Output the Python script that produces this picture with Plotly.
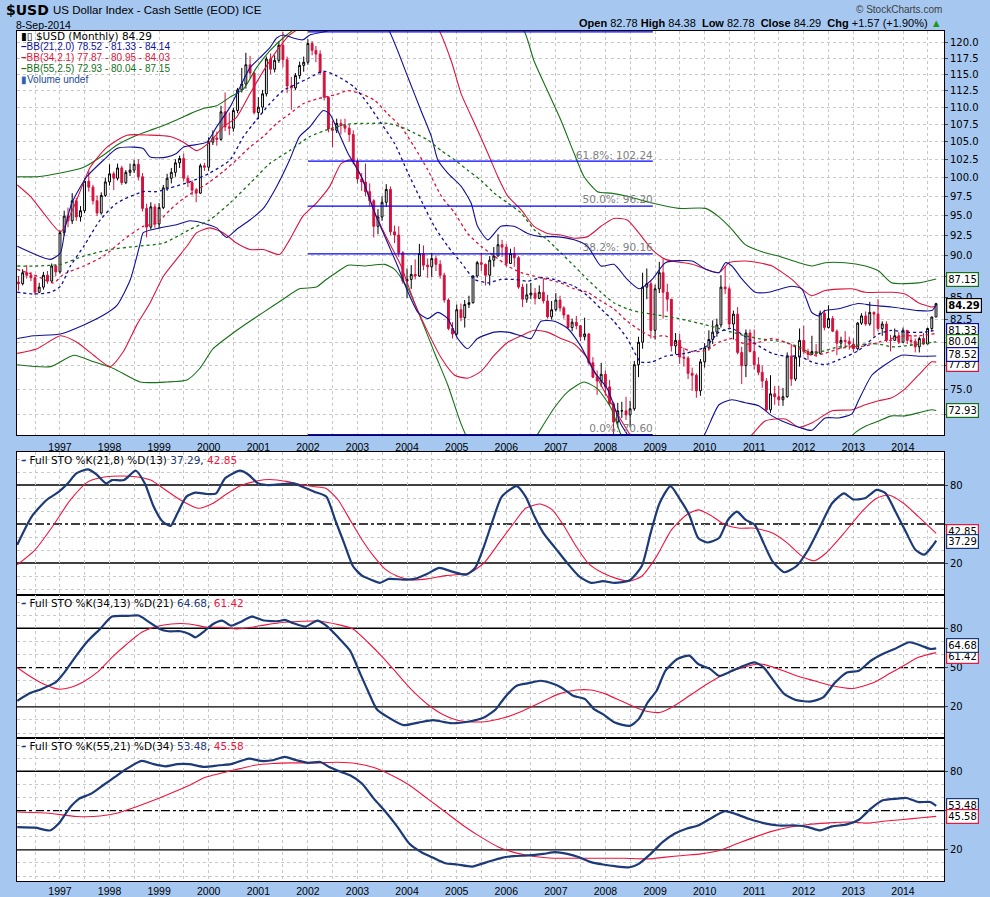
import numpy as np
import plotly.graph_objects as go
from datetime import datetime

# ---------------- data ----------------
prior_close = 86.8  # Feb-1996 close (open of first bar)
closes = [
    86.6, 87.9, 87.6, 87.3, 85.6, 86.2, 87.6, 86.9, 88.7, 88.0,                      # 1996 Mar-Dec
    92.8, 94.9, 94.3, 96.9, 94.8, 95.6, 99.5, 98.7, 96.9, 95.3, 97.6, 99.4,          # 1997
    100.5, 99.9, 101.3, 99.3, 100.7, 101.0, 101.8, 100.1, 95.9, 93.5, 96.1, 93.9,    # 1998
    96.0, 98.6, 99.9, 100.7, 102.0, 102.6, 99.9, 99.3, 98.3, 97.9, 101.6, 101.4,     # 1999
    104.9, 105.5, 105.3, 109.3, 107.1, 106.9, 109.5, 112.6, 113.5, 116.5, 115.2, 109.2,  # 2000
    110.0, 112.0, 117.4, 115.8, 117.2, 119.6, 117.3, 113.2, 112.9, 114.8, 116.4, 116.9,  # 2001
    119.9, 118.8, 118.2, 115.3, 111.5, 106.8, 106.6, 107.6, 107.3, 106.9, 106.0, 102.2,  # 2002
    99.8, 99.4, 98.1, 96.9, 93.6, 94.8, 96.7, 98.4, 92.9, 92.5, 90.3, 86.9,          # 2003
    87.1, 87.7, 87.5, 90.2, 88.8, 88.6, 89.6, 88.9, 87.6, 84.7, 81.5, 80.9,          # 2004
    83.6, 82.7, 84.2, 84.4, 87.5, 89.1, 88.9, 87.6, 89.4, 89.9, 91.3, 91.0,          # 2005
    89.0, 90.2, 89.7, 86.2, 84.8, 85.3, 85.5, 84.9, 85.6, 84.6, 82.8, 83.6,          # 2006
    84.7, 83.8, 83.0, 81.6, 82.2, 81.8, 80.6, 80.9, 77.8, 76.3, 75.9, 76.6,          # 2007
    75.3, 73.6, 71.8, 72.9, 72.9, 72.5, 73.1, 77.6, 80.0, 86.2, 86.6, 81.3,          # 2008
    86.0, 87.9, 85.6, 84.8, 79.6, 80.2, 78.4, 78.3, 76.7, 76.5, 74.9, 77.9,          # 2009
    79.4, 80.3, 81.1, 81.9, 86.2, 86.0, 82.0, 83.1, 78.9, 77.5, 81.0, 79.0,          # 2010
    77.6, 76.8, 75.9, 73.0, 74.6, 74.3, 74.0, 74.3, 78.5, 76.1, 78.4, 80.2,          # 2011
    79.0, 78.7, 79.0, 78.8, 83.2, 81.6, 82.6, 81.2, 79.9, 80.2, 80.1, 79.8,          # 2012
    79.3, 82.1, 82.9, 82.0, 83.3, 83.1, 81.5, 82.0, 80.2, 80.2, 80.7, 80.0,          # 2013
    81.3, 80.2, 80.1, 79.5, 80.4, 79.8, 81.5, 82.78, 84.29,                          # 2014 Jan-Sep
]
highs = [
    87.5, 88.3, 88.8, 88.0, 87.6, 86.7, 88.0, 88.1, 89.0, 88.9,
    93.1, 95.6, 96.0, 97.9, 97.3, 96.2, 99.9, 100.9, 99.0, 97.6, 98.0, 100.0,
    101.8, 100.8, 101.9, 101.6, 101.0, 101.9, 102.4, 102.5, 100.6, 96.5, 96.7, 96.5,
    96.6, 99.0, 100.5, 101.3, 102.5, 103.0, 103.3, 100.3, 99.6, 98.6, 101.9, 102.0,
    105.6, 106.6, 106.4, 110.2, 112.2, 109.2, 109.9, 112.9, 116.0, 118.4, 117.9, 115.4,
    111.5, 112.6, 117.8, 118.3, 118.0, 120.3, 121.8, 117.8, 114.6, 115.2, 117.0, 117.8,
    120.6, 120.3, 119.5, 118.8, 115.5, 111.6, 108.0, 108.3, 108.2, 108.3, 107.4, 106.6,
    102.6, 100.6, 101.9, 99.2, 97.1, 95.8, 97.5, 99.1, 98.8, 93.7, 93.6, 90.5,
    88.4, 88.8, 89.5, 91.4, 91.2, 89.6, 90.3, 90.0, 89.4, 87.9, 84.9, 82.2,
    84.2, 84.3, 84.7, 85.2, 87.6, 89.3, 90.3, 89.0, 89.9, 91.0, 92.6, 91.9,
    91.4, 90.8, 91.0, 89.9, 86.6, 86.6, 86.7, 86.1, 86.4, 87.2, 85.3, 84.6,
    85.5, 85.2, 84.0, 83.0, 82.6, 82.9, 81.9, 82.7, 81.0, 78.4, 77.0, 77.8,
    77.0, 76.0, 73.8, 73.7, 73.8, 74.3, 73.9, 78.0, 80.6, 87.9, 88.4, 87.0,
    86.5, 89.2, 89.6, 86.6, 84.8, 81.0, 80.9, 79.4, 78.5, 77.3, 76.7, 78.2,
    79.9, 81.3, 82.4, 82.6, 87.6, 88.7, 86.3, 83.5, 83.9, 79.5, 81.4, 81.4,
    81.4, 78.4, 77.5, 76.2, 76.5, 75.4, 75.4, 75.2, 78.9, 79.8, 79.6, 81.5,
    81.8, 79.3, 80.7, 79.8, 83.5, 83.6, 84.1, 82.9, 81.4, 80.6, 81.2, 80.6,
    80.4, 82.2, 83.2, 83.4, 84.5, 83.4, 84.8, 82.3, 82.3, 80.8, 81.5, 81.1,
    81.6, 81.3, 80.8, 80.4, 80.6, 81.0, 81.6, 82.8, 84.38,
]
lows = [
    85.8, 86.4, 87.2, 86.9, 85.3, 85.5, 85.9, 86.6, 86.8, 87.5,
    87.8, 92.4, 93.5, 93.9, 94.3, 94.2, 95.3, 98.1, 96.4, 94.9, 95.1, 97.4,
    98.9, 98.3, 99.6, 99.0, 99.1, 100.2, 100.6, 99.6, 95.5, 92.2, 93.2, 93.4,
    93.4, 95.8, 98.2, 99.2, 100.1, 101.3, 99.5, 98.7, 97.6, 96.7, 97.8, 100.9,
    100.9, 104.5, 104.4, 105.1, 106.5, 105.9, 106.4, 109.1, 112.2, 112.8, 114.3, 108.9,
    108.2, 109.1, 111.6, 115.0, 115.3, 116.8, 116.1, 112.1, 109.6, 112.6, 114.3, 115.4,
    116.5, 118.0, 116.9, 114.9, 111.0, 106.3, 104.2, 106.2, 106.0, 106.3, 105.0, 101.8,
    99.2, 98.2, 97.5, 96.2, 92.2, 92.6, 94.3, 96.1, 92.5, 91.5, 89.8, 86.6,
    84.9, 86.0, 87.1, 87.4, 88.2, 87.3, 87.4, 88.1, 87.2, 84.4, 81.3, 80.4,
    80.7, 82.3, 81.6, 83.8, 84.3, 87.3, 88.1, 86.4, 86.4, 88.6, 89.9, 89.8,
    88.6, 89.0, 88.6, 86.0, 83.9, 84.4, 84.8, 84.2, 84.8, 84.3, 82.6, 82.5,
    83.4, 83.4, 82.6, 81.5, 81.2, 81.4, 80.1, 80.2, 77.6, 76.2, 74.5, 75.3,
    74.4, 73.4, 70.6, 71.3, 72.2, 72.0, 71.3, 72.9, 76.3, 79.3, 84.8, 80.4,
    80.3, 85.5, 82.6, 83.4, 79.0, 78.7, 77.7, 77.4, 76.1, 74.9, 74.2, 74.4,
    77.3, 79.1, 79.8, 80.6, 81.6, 85.4, 81.5, 80.3, 78.7, 75.6, 76.3, 78.9,
    77.1, 76.5, 75.2, 72.8, 72.7, 73.5, 73.4, 73.4, 74.2, 75.4, 75.9, 77.4,
    78.7, 78.1, 78.6, 78.4, 78.7, 81.3, 81.5, 81.1, 78.6, 79.3, 79.6, 79.2,
    78.9, 79.1, 81.9, 81.8, 81.8, 80.6, 81.2, 80.7, 80.0, 79.0, 80.2, 79.8,
    79.9, 79.8, 79.6, 78.9, 78.9, 79.7, 79.8, 81.2, 82.78,
]

# Bollinger bands: (decimal year, value)
bb21_upper = [(1996.14, 91.1), (1996.81, 89.5), (1997.01, 90.3), (1997.11, 93.6), (1997.24, 96.6),
    (1997.54, 100.1), (1997.88, 102.4), (1998.15, 104.0), (1998.48, 104.2), (1998.68, 104.0),
    (1998.82, 102.8), (1999.15, 102.8), (1999.35, 103.3), (1999.49, 104.2), (1999.96, 104.9),
    (2000.16, 107.1), (2000.43, 110.0), (2000.63, 113.0), (2000.83, 116.0), (2001.03, 117.6),
    (2001.23, 119.2), (2001.37, 120.8), (2001.50, 121.3), (2001.70, 120.8), (2001.90, 120.5),
    (2002.04, 121.3), (2002.44, 122.1), (2002.75, 124.5), (2003.10, 125.0), (2003.40, 123.8),
    (2003.61, 122.4), (2004.02, 114.5), (2004.28, 109.5), (2004.49, 105.7), (2004.62, 102.4),
    (2004.82, 100.6), (2005.09, 98.8), (2005.29, 96.6), (2005.42, 93.6), (2005.63, 91.9),
    (2005.89, 93.6), (2006.16, 93.6), (2006.43, 92.7), (2006.70, 92.3), (2006.97, 92.3),
    (2007.37, 91.9), (2007.64, 91.1), (2007.91, 88.7), (2008.17, 88.9), (2008.44, 87.1),
    (2008.68, 86.0), (2008.94, 87.1), (2009.21, 89.1), (2009.75, 89.3), (2010.02, 88.3),
    (2010.29, 87.9), (2010.42, 89.1), (2010.55, 88.7), (2010.76, 87.1), (2011.02, 85.6),
    (2011.29, 85.6), (2011.76, 86.3), (2011.96, 86.0), (2012.16, 83.3), (2012.30, 82.9),
    (2012.43, 83.5), (2012.70, 83.7), (2013.10, 84.3), (2013.37, 84.1), (2013.77, 83.9),
    (2014.31, 83.5), (2014.58, 83.5), (2014.67, 84.14)]
bb21_mid = [(1996.14, 85.6), (1996.47, 85.4), (1996.81, 85.6), (1997.01, 86.3), (1997.21, 88.7),
    (1997.48, 91.1), (1997.81, 94.4), (1998.15, 96.6), (1998.68, 98.1), (1998.95, 98.1),
    (1999.22, 98.6), (1999.62, 99.4), (2000.02, 100.6), (2000.43, 102.4), (2000.70, 105.7),
    (2000.96, 108.1), (2001.23, 110.5), (2001.50, 112.5), (2001.77, 113.5), (2002.04, 114.5),
    (2002.31, 115.5), (2002.57, 114.8), (2002.94, 113.0), (2003.21, 110.5), (2003.48, 107.6),
    (2003.75, 104.7), (2004.02, 100.6), (2004.28, 97.0), (2004.55, 93.6), (2004.82, 91.1),
    (2005.09, 89.1), (2005.36, 87.1), (2005.63, 86.7), (2005.89, 87.1), (2006.16, 87.1),
    (2006.43, 86.9), (2006.70, 87.3), (2006.97, 87.1), (2007.37, 86.3), (2007.64, 85.2),
    (2007.91, 83.7), (2008.17, 82.3), (2008.44, 80.4), (2008.71, 77.9), (2008.94, 77.9),
    (2009.21, 78.5), (2009.61, 78.8), (2010.02, 79.5), (2010.29, 81.1), (2010.55, 81.5),
    (2010.82, 80.6), (2011.09, 79.6), (2011.36, 78.8), (2011.63, 78.5), (2011.90, 78.5),
    (2012.16, 77.9), (2012.43, 77.6), (2012.70, 78.1), (2013.10, 79.1), (2013.51, 80.9),
    (2013.77, 81.3), (2014.04, 81.1), (2014.44, 81.1), (2014.67, 81.33)]
bb21_lower = [(1996.14, 80.4), (1996.47, 80.7), (1997.01, 80.9), (1997.48, 81.9), (1997.88, 83.0),
    (1998.15, 84.1), (1998.42, 87.1), (1998.62, 91.5), (1998.68, 92.8), (1999.02, 93.4),
    (1999.35, 93.8), (1999.62, 94.3), (1999.89, 94.0), (2000.16, 93.4), (2000.36, 92.2),
    (2000.56, 93.2), (2000.83, 94.4), (2001.10, 95.9), (2001.37, 98.8), (2001.63, 102.4),
    (2001.83, 105.7), (2002.04, 107.1), (2002.31, 109.5), (2002.44, 109.0), (2002.57, 107.1),
    (2002.81, 103.3), (2003.08, 100.1), (2003.35, 95.3), (2003.61, 91.5), (2003.81, 88.7),
    (2004.02, 85.6), (2004.22, 83.3), (2004.42, 82.6), (2004.62, 83.3), (2004.82, 82.6),
    (2005.02, 80.4), (2005.22, 79.3), (2005.42, 80.4), (2005.76, 81.1), (2006.03, 81.1),
    (2006.30, 80.7), (2006.50, 80.4), (2006.70, 82.3), (2006.97, 82.3), (2007.24, 81.5),
    (2007.50, 79.6), (2007.77, 76.9), (2008.04, 75.1), (2008.31, 71.6), (2008.44, 70.6),
    (2008.70, 68.3), (2009.20, 66.5), (2009.70, 68.3), (2010.02, 70.8), (2010.29, 73.5),
    (2010.55, 74.0), (2010.82, 73.7), (2011.09, 73.4), (2011.36, 72.4), (2011.56, 71.9),
    (2011.90, 71.3), (2012.16, 71.0), (2012.43, 72.2), (2012.70, 72.2), (2012.97, 72.6),
    (2013.10, 73.9), (2013.37, 76.5), (2013.64, 77.6), (2013.97, 78.6), (2014.31, 78.5),
    (2014.67, 78.52)]
bb34_upper = [(1996.14, 99.0), (1996.40, 97.5), (1996.67, 95.3), (1997.01, 92.9), (1997.28, 96.1),
    (1997.61, 101.4), (1997.95, 104.2), (1998.35, 105.9), (1998.82, 105.9), (1999.22, 105.7),
    (1999.49, 104.9), (1999.76, 103.7), (2000.02, 104.9), (2000.29, 107.1), (2000.56, 108.5),
    (2000.83, 112.0), (2001.10, 115.5), (2001.37, 118.7), (2001.63, 121.3), (2001.83, 122.4),
    (2002.30, 125.0), (2003.00, 126.5), (2003.70, 126.0), (2004.30, 124.3), (2004.62, 122.4),
    (2004.89, 117.1), (2005.09, 112.0), (2005.36, 107.6), (2005.63, 103.3), (2005.83, 100.1),
    (2006.03, 97.5), (2006.30, 95.7), (2006.56, 93.6), (2006.83, 92.7), (2007.10, 92.5),
    (2007.37, 92.1), (2007.64, 92.3), (2007.91, 93.6), (2008.17, 94.6), (2008.44, 94.4),
    (2008.68, 92.7), (2008.94, 90.7), (2009.21, 89.5), (2009.75, 88.9), (2010.29, 87.9),
    (2010.49, 89.1), (2010.82, 89.3), (2011.09, 89.1), (2011.36, 88.7), (2011.76, 87.1),
    (2011.96, 86.0), (2012.16, 85.2), (2012.43, 85.8), (2012.97, 86.0), (2013.24, 85.6),
    (2013.77, 85.6), (2014.04, 85.4), (2014.31, 84.4), (2014.58, 83.9), (2014.67, 84.03)]
bb34_mid = [(1996.14, 88.3), (1996.54, 87.5), (1996.87, 86.7), (1997.07, 87.7), (1997.48, 88.7),
    (1997.88, 89.9), (1998.28, 91.9), (1998.68, 93.6), (1998.95, 94.0), (1999.22, 95.7),
    (1999.49, 97.2), (1999.76, 98.3), (2000.02, 99.4), (2000.29, 100.8), (2000.56, 102.4),
    (2000.83, 104.2), (2001.10, 105.7), (2001.37, 107.6), (2001.63, 109.0), (2001.90, 110.5),
    (2002.17, 111.2), (2002.57, 111.9), (2002.81, 112.5), (2003.08, 112.0), (2003.35, 111.0),
    (2003.61, 109.0), (2003.88, 107.1), (2004.15, 104.2), (2004.42, 101.0), (2004.69, 97.5),
    (2004.96, 95.3), (2005.22, 92.7), (2005.49, 91.1), (2005.76, 89.9), (2006.03, 88.7),
    (2006.30, 87.9), (2006.56, 87.5), (2006.83, 87.1), (2007.10, 86.7), (2007.37, 86.0),
    (2007.64, 85.6), (2007.91, 84.6), (2008.17, 83.7), (2008.44, 82.3), (2008.70, 81.3),
    (2008.94, 80.6), (2009.21, 80.7), (2009.48, 79.6), (2009.75, 79.0), (2010.02, 79.1),
    (2010.29, 80.0), (2010.55, 80.4), (2010.82, 79.8), (2011.09, 80.0), (2011.36, 80.4),
    (2011.63, 80.0), (2011.90, 79.3), (2012.16, 78.6), (2012.43, 78.8), (2012.70, 79.3),
    (2012.97, 79.5), (2013.24, 79.6), (2013.51, 80.0), (2013.77, 80.4), (2014.04, 80.7),
    (2014.31, 80.7), (2014.67, 80.95)]
bb34_lower = [(1996.14, 78.8), (1996.54, 79.3), (1997.01, 80.7), (1997.34, 80.0), (1997.68, 78.6),
    (1998.01, 77.4), (1998.28, 79.0), (1998.55, 81.9), (1998.82, 84.4), (1999.09, 87.5),
    (1999.35, 89.5), (1999.56, 91.1), (1999.76, 92.8), (2000.02, 93.4), (2000.29, 92.8),
    (2000.56, 91.5), (2000.83, 90.7), (2001.10, 90.7), (2001.43, 90.1), (2001.63, 91.9),
    (2001.90, 94.9), (2002.17, 96.6), (2002.44, 98.8), (2002.67, 101.9), (2002.88, 102.4),
    (2003.08, 100.1), (2003.35, 95.3), (2003.61, 91.9), (2003.88, 88.7), (2004.15, 84.4),
    (2004.42, 81.1), (2004.69, 78.3), (2004.96, 76.5), (2005.22, 76.2), (2005.49, 76.9),
    (2005.76, 78.6), (2006.03, 80.0), (2006.30, 80.7), (2006.56, 81.3), (2006.83, 81.1),
    (2007.10, 80.4), (2007.37, 79.8), (2007.64, 78.3), (2007.91, 75.5), (2008.17, 73.2),
    (2008.44, 71.0), (2008.80, 68.5), (2009.50, 66.5), (2010.20, 67.0), (2010.70, 69.3),
    (2010.96, 70.6), (2011.22, 71.9), (2011.63, 72.1), (2011.90, 71.3), (2012.16, 71.7),
    (2012.57, 72.9), (2012.97, 73.0), (2013.24, 73.5), (2013.51, 73.9), (2013.77, 74.2),
    (2014.04, 75.1), (2014.31, 76.5), (2014.58, 77.9), (2014.67, 77.87)]
bb55_upper = [(1996.14, 100.1), (1996.54, 100.1), (1997.01, 100.6), (1997.48, 101.4), (1997.88, 103.1),
    (1998.15, 104.5), (1998.55, 105.9), (1998.82, 106.6), (1999.09, 107.3), (1999.35, 108.1),
    (1999.62, 109.0), (1999.89, 109.8), (2000.16, 110.2), (2000.43, 111.5), (2000.70, 112.7),
    (2000.96, 116.0), (2001.23, 118.7), (2001.50, 120.8), (2001.70, 122.1), (2002.20, 125.0),
    (2003.00, 127.5), (2004.00, 129.0), (2005.00, 127.5), (2005.80, 124.5), (2006.33, 122.4),
    (2006.56, 117.1), (2006.83, 112.5), (2007.10, 108.1), (2007.37, 103.3), (2007.57, 100.1),
    (2007.84, 98.1), (2008.11, 97.9), (2008.44, 97.5), (2008.71, 97.0), (2008.94, 96.6),
    (2009.48, 95.9), (2010.02, 95.9), (2010.29, 94.8), (2010.55, 93.2), (2010.82, 91.3),
    (2011.22, 90.3), (2011.49, 89.9), (2011.90, 89.1), (2012.16, 88.7), (2012.43, 89.1),
    (2012.83, 89.1), (2013.24, 88.7), (2013.51, 88.1), (2013.77, 86.7), (2014.31, 86.7),
    (2014.67, 87.15)]
bb55_mid = [(1996.14, 88.7), (1996.54, 88.7), (1997.01, 88.9), (1997.48, 89.9), (1998.01, 90.7),
    (1998.55, 91.1), (1999.09, 91.5), (1999.62, 93.2), (2000.02, 94.4), (2000.43, 96.6),
    (2000.83, 99.2), (2001.23, 101.9), (2001.63, 103.7), (2002.04, 105.7), (2002.44, 106.8),
    (2002.81, 107.5), (2003.21, 107.6), (2003.61, 107.6), (2003.88, 107.1), (2004.15, 106.2),
    (2004.42, 105.2), (2004.69, 103.7), (2004.96, 102.4), (2005.22, 101.0), (2005.49, 99.6),
    (2005.76, 97.9), (2006.03, 96.6), (2006.30, 95.3), (2006.56, 93.2), (2006.83, 91.9),
    (2007.10, 90.3), (2007.37, 88.7), (2007.64, 87.1), (2007.91, 85.6), (2008.17, 84.4),
    (2008.44, 83.7), (2008.71, 83.3), (2008.94, 83.1), (2009.48, 82.6), (2010.02, 81.9),
    (2010.29, 81.5), (2010.55, 81.1), (2010.82, 80.7), (2011.09, 80.4), (2011.36, 80.2),
    (2011.63, 80.0), (2011.90, 79.5), (2012.16, 78.8), (2012.43, 79.1), (2012.70, 79.5),
    (2012.97, 79.6), (2013.24, 79.8), (2013.51, 79.8), (2013.77, 79.5), (2014.04, 79.6),
    (2014.31, 79.8), (2014.67, 80.04)]
bb55_lower = [(1996.14, 77.6), (1996.81, 77.4), (1997.28, 78.6), (1997.68, 77.9), (1998.08, 77.2),
    (1998.62, 75.8), (1999.15, 75.8), (1999.56, 76.0), (1999.82, 77.2), (2000.09, 79.3),
    (2000.49, 81.0), (2000.83, 82.3), (2001.10, 83.3), (2001.50, 84.8), (2001.83, 86.0),
    (2002.17, 86.2), (2002.37, 87.1), (2002.57, 87.9), (2002.81, 88.8), (2003.14, 88.7),
    (2003.55, 88.9), (2003.75, 88.3), (2004.02, 86.0), (2004.28, 82.6), (2004.55, 78.9),
    (2004.82, 75.5), (2005.09, 71.6), (2005.40, 68.5), (2005.90, 66.5), (2006.40, 68.8),
    (2006.63, 70.6), (2006.97, 73.2), (2007.24, 74.8), (2007.57, 75.8), (2007.84, 75.1),
    (2008.11, 73.2), (2008.31, 70.6), (2008.60, 67.5), (2009.50, 63.0), (2010.50, 62.0),
    (2011.50, 63.5), (2012.30, 67.0), (2012.80, 69.6), (2013.04, 70.8), (2013.24, 71.4),
    (2013.51, 71.9), (2013.77, 72.4), (2014.04, 72.4), (2014.31, 72.7), (2014.58, 73.0),
    (2014.67, 72.93)]

# Fibonacci retracement levels
fib_start, fib_end = "2002-01-01", "2008-12-15"
fib_levels = [121.80, 102.24, 96.20, 90.16, 70.60]
fib_labels = ["", "61.8%: 102.24", "50.0%: 96.20", "38.2%: 90.16", "0.0%: 70.60"]

# Full stochastics: (decimal year, value)
sto1_k = [(1996.14, 34.0), (1996.43, 55.7), (1996.73, 68.5), (1996.98, 74.9), (1997.16, 81.3),
    (1997.33, 88.9), (1997.57, 92.0), (1997.75, 87.7), (1997.93, 81.3), (1998.05, 83.8),
    (1998.29, 83.8), (1998.53, 91.0), (1998.71, 81.3), (1998.89, 63.4), (1999.07, 51.9),
    (1999.23, 48.6), (1999.37, 58.3), (1999.55, 71.1), (1999.73, 74.1), (1999.97, 73.1),
    (2000.15, 73.6), (2000.33, 85.1), (2000.63, 91.0), (2000.81, 87.7), (2000.99, 81.3),
    (2001.17, 80.0), (2001.41, 80.5), (2001.71, 81.3), (2001.89, 78.7), (2002.13, 74.9),
    (2002.37, 71.1), (2002.55, 53.2), (2002.73, 35.3), (2002.91, 17.5), (2003.09, 10.3),
    (2003.27, 7.2), (2003.45, 4.7), (2003.63, 7.8), (2003.93, 7.2), (2004.17, 8.0),
    (2004.41, 11.8), (2004.65, 16.2), (2004.89, 13.6), (2005.19, 11.1), (2005.37, 16.2),
    (2005.55, 32.8), (2005.73, 53.2), (2005.91, 71.1), (2006.21, 79.2), (2006.39, 71.1),
    (2006.57, 55.7), (2006.75, 43.0), (2006.99, 31.5), (2007.23, 20.0), (2007.47, 9.8),
    (2007.71, 4.7), (2007.95, 6.0), (2008.19, 4.7), (2008.49, 6.7), (2008.73, 17.5),
    (2008.91, 43.0), (2009.09, 66.0), (2009.31, 79.2), (2009.51, 68.5), (2009.69, 57.0),
    (2009.87, 39.2), (2010.05, 35.8), (2010.29, 39.2), (2010.47, 53.2), (2010.65, 59.6),
    (2010.83, 53.2), (2011.01, 49.4), (2011.19, 35.3), (2011.37, 21.3), (2011.61, 12.9),
    (2011.85, 17.5), (2012.09, 30.2), (2012.33, 48.1), (2012.57, 66.0), (2012.81, 73.6),
    (2012.99, 69.0), (2013.23, 69.8), (2013.47, 76.2), (2013.65, 73.6), (2013.83, 60.9),
    (2014.07, 43.0), (2014.25, 30.2), (2014.43, 26.4), (2014.61, 34.0), (2014.67, 37.29)]
sto1_d = [(1996.14, 18.7), (1996.50, 30.2), (1996.85, 48.1), (1997.21, 68.5), (1997.57, 82.6),
    (1997.93, 86.4), (1998.23, 86.9), (1998.53, 86.4), (1998.83, 83.8), (1999.13, 76.2),
    (1999.43, 68.5), (1999.79, 62.1), (2000.09, 66.0), (2000.33, 72.3), (2000.63, 79.2),
    (2000.99, 83.3), (2001.23, 84.3), (2001.59, 82.6), (2001.89, 80.0), (2002.13, 78.7),
    (2002.37, 77.4), (2002.61, 68.5), (2002.85, 53.2), (2003.09, 37.9), (2003.33, 25.1),
    (2003.57, 14.9), (2003.81, 9.8), (2004.05, 7.2), (2004.41, 7.8), (2004.77, 10.3),
    (2005.25, 12.3), (2005.55, 20.0), (2005.85, 35.3), (2006.15, 50.6), (2006.39, 62.1),
    (2006.69, 65.4), (2006.93, 60.9), (2007.17, 48.1), (2007.41, 32.8), (2007.65, 20.0),
    (2007.95, 12.3), (2008.25, 7.8), (2008.49, 6.0), (2008.73, 9.8), (2009.03, 25.1),
    (2009.33, 45.5), (2009.63, 57.0), (2009.87, 60.9), (2010.11, 57.0), (2010.41, 49.4),
    (2010.71, 46.8), (2011.01, 46.8), (2011.37, 43.0), (2011.67, 35.3), (2011.97, 25.1),
    (2012.21, 21.8), (2012.45, 27.7), (2012.81, 43.0), (2013.17, 59.6), (2013.47, 69.8),
    (2013.71, 72.3), (2014.01, 66.0), (2014.31, 55.7), (2014.49, 49.4), (2014.67, 42.85)]
sto2_k = [(1996.14, 24.6), (1996.38, 30.2), (1996.62, 33.5), (1996.91, 38.6), (1997.09, 46.3),
    (1997.33, 59.1), (1997.57, 70.6), (1997.81, 79.5), (1998.05, 88.9), (1998.35, 89.4),
    (1998.59, 89.7), (1998.77, 85.4), (1999.01, 79.5), (1999.19, 77.7), (1999.43, 77.7),
    (1999.61, 75.7), (1999.73, 73.1), (1999.91, 77.7), (2000.09, 83.3), (2000.27, 85.9),
    (2000.45, 82.0), (2000.63, 84.6), (2000.87, 88.9), (2001.11, 85.9), (2001.41, 85.4),
    (2001.53, 86.4), (2001.71, 83.8), (2001.95, 81.3), (2002.19, 85.9), (2002.37, 82.0),
    (2002.61, 73.1), (2002.85, 62.9), (2003.03, 47.6), (2003.21, 32.3), (2003.39, 18.2),
    (2003.63, 11.8), (2003.93, 6.0), (2004.23, 8.0), (2004.53, 9.8), (2004.89, 7.5),
    (2005.25, 8.8), (2005.55, 11.8), (2005.79, 18.2), (2005.97, 27.2), (2006.21, 36.1),
    (2006.45, 38.1), (2006.69, 39.9), (2006.87, 38.6), (2007.11, 34.8), (2007.35, 28.4),
    (2007.59, 25.9), (2007.77, 18.2), (2007.95, 14.4), (2008.19, 8.0), (2008.49, 5.5),
    (2008.67, 10.6), (2008.85, 23.3), (2009.03, 32.3), (2009.21, 47.6), (2009.45, 56.5),
    (2009.69, 59.1), (2009.87, 52.7), (2010.11, 48.9), (2010.29, 43.7), (2010.53, 47.1),
    (2010.71, 50.1), (2011.01, 54.0), (2011.19, 50.1), (2011.37, 41.2), (2011.61, 29.7),
    (2011.85, 25.1), (2012.15, 24.1), (2012.39, 27.2), (2012.63, 38.6), (2012.87, 46.3),
    (2013.11, 47.6), (2013.35, 55.2), (2013.59, 60.3), (2013.83, 64.2), (2014.13, 69.3),
    (2014.37, 66.7), (2014.55, 64.2), (2014.67, 64.68)]
sto2_d = [(1996.14, 50.1), (1996.38, 43.7), (1996.67, 37.4), (1996.97, 33.5), (1997.21, 34.8),
    (1997.45, 38.6), (1997.75, 46.3), (1998.05, 57.8), (1998.35, 68.0), (1998.65, 76.9),
    (1998.95, 81.3), (1999.25, 83.3), (1999.61, 83.3), (1999.97, 80.8), (2000.27, 80.8),
    (2000.57, 79.5), (2000.87, 80.8), (2001.17, 82.8), (2001.53, 84.6), (2001.89, 85.4),
    (2002.25, 85.4), (2002.61, 82.8), (2002.91, 79.5), (2003.21, 69.3), (2003.51, 57.8),
    (2003.81, 45.0), (2004.11, 32.3), (2004.41, 22.0), (2004.71, 14.4), (2005.01, 9.8),
    (2005.31, 8.5), (2005.61, 8.8), (2005.97, 11.8), (2006.33, 16.9), (2006.69, 23.3),
    (2007.05, 29.7), (2007.41, 32.8), (2007.71, 32.8), (2008.01, 29.7), (2008.31, 24.6),
    (2008.61, 19.5), (2008.85, 16.4), (2009.09, 15.7), (2009.33, 19.5), (2009.69, 28.4),
    (2010.05, 37.4), (2010.41, 45.0), (2010.77, 50.1), (2011.13, 52.7), (2011.49, 48.9),
    (2011.85, 43.7), (2012.21, 39.9), (2012.57, 36.1), (2012.99, 34.0), (2013.41, 38.6),
    (2013.71, 45.0), (2014.01, 51.4), (2014.31, 57.8), (2014.67, 61.42)]
sto3_k = [(1996.14, 37.4), (1996.50, 36.9), (1996.80, 34.8), (1996.97, 39.9), (1997.21, 52.7),
    (1997.39, 59.1), (1997.63, 62.9), (1997.87, 69.3), (1998.11, 75.7), (1998.35, 82.0),
    (1998.65, 87.9), (1998.89, 85.4), (1999.13, 83.8), (1999.37, 85.4), (1999.61, 85.4),
    (1999.91, 83.3), (2000.21, 84.6), (2000.45, 85.4), (2000.81, 89.7), (2001.05, 87.9),
    (2001.29, 88.4), (2001.53, 91.0), (2001.77, 88.4), (2002.01, 86.4), (2002.25, 87.1),
    (2002.43, 83.3), (2002.67, 79.5), (2002.85, 76.9), (2003.09, 70.6), (2003.33, 59.1),
    (2003.57, 48.9), (2003.81, 37.4), (2004.05, 24.6), (2004.29, 18.2), (2004.53, 13.9),
    (2004.77, 9.8), (2005.01, 8.8), (2005.31, 7.2), (2005.61, 10.6), (2005.91, 13.9),
    (2006.15, 15.2), (2006.45, 15.7), (2006.75, 16.9), (2006.99, 18.2), (2007.23, 16.9),
    (2007.47, 14.4), (2007.71, 10.6), (2007.95, 8.8), (2008.19, 7.5), (2008.49, 6.7),
    (2008.67, 9.3), (2008.91, 16.9), (2009.15, 25.9), (2009.39, 32.3), (2009.63, 36.1),
    (2009.87, 38.6), (2010.11, 43.7), (2010.41, 49.6), (2010.65, 47.1), (2010.89, 43.7),
    (2011.19, 40.4), (2011.49, 38.6), (2011.85, 38.6), (2012.09, 37.4), (2012.33, 34.8),
    (2012.57, 37.9), (2012.87, 39.4), (2013.11, 43.0), (2013.35, 51.4), (2013.59, 57.8),
    (2013.89, 59.1), (2014.07, 59.6), (2014.31, 56.5), (2014.55, 56.5), (2014.67, 53.48)]
sto3_d = [(1996.14, 48.9), (1996.73, 48.1), (1997.33, 45.5), (1997.81, 45.8), (1998.17, 48.1),
    (1998.53, 52.7), (1998.89, 57.8), (1999.25, 63.4), (1999.61, 69.3), (1999.91, 75.1),
    (2000.27, 78.7), (2000.63, 82.0), (2000.93, 84.6), (2001.29, 85.9), (2001.65, 86.4),
    (2002.13, 86.4), (2002.61, 86.9), (2002.97, 85.9), (2003.33, 82.8), (2003.69, 76.9),
    (2004.05, 69.3), (2004.41, 59.1), (2004.77, 48.9), (2005.13, 38.6), (2005.49, 29.7),
    (2005.85, 22.0), (2006.21, 17.5), (2006.57, 14.9), (2006.93, 13.6), (2007.41, 13.6),
    (2007.89, 13.6), (2008.37, 13.6), (2008.85, 13.1), (2009.21, 14.4), (2009.57, 15.7),
    (2009.93, 16.9), (2010.29, 19.5), (2010.65, 24.6), (2011.01, 29.7), (2011.37, 34.3),
    (2011.73, 37.4), (2012.09, 39.4), (2012.45, 40.4), (2012.93, 41.2), (2013.29, 40.4),
    (2013.65, 42.0), (2014.01, 43.2), (2014.37, 44.5), (2014.67, 45.58)]

year_labels = [str(y) for y in range(1997, 2015)]

# ---------------- helpers ----------------
def dy(t):
    y = int(t)
    a, b = datetime(y, 1, 1), datetime(y + 1, 1, 1)
    return a + (b - a) * (t - y)

BLUE = "#10109a"
RED = "#dc143c"
GREEN = "#167016"
KNAVY = "#1c3a78"
STORED = "#f0143c"
CANDLE_RED = "#d4103c"
FONT = "DejaVu Sans"
AFONT = "Liberation Sans"

def band(pairs, color, dash="solid", width=1.1, xa="x", ya="y"):
    return go.Scatter(x=[dy(t) for t, _ in pairs], y=[v for _, v in pairs], mode="lines",
                      line=dict(color=color, width=width, dash=dash, shape="spline", smoothing=0.6),
                      xaxis=xa, yaxis=ya, hoverinfo="skip", showlegend=False)

months = [datetime(1996 + (2 + i) // 12, (2 + i) % 12 + 1, 1) for i in range(len(closes))]
opens = [prior_close] + closes[:-1]

fig = go.Figure()

# Bollinger bands
for pairs, col in [(bb55_upper, GREEN), (bb55_lower, GREEN), (bb34_upper, RED), (bb34_lower, RED),
                   (bb21_upper, BLUE), (bb21_lower, BLUE)]:
    fig.add_trace(band(pairs, col))
for pairs, col in [(bb55_mid, GREEN), (bb34_mid, RED), (bb21_mid, BLUE)]:
    fig.add_trace(band(pairs, col, dash="dot", width=1.3))

# Fibonacci lines
for lv, lab in zip(fib_levels, fib_labels):
    fig.add_trace(go.Scatter(x=[fib_start, fib_end], y=[lv, lv], mode="lines",
                             line=dict(color="#0000ff", width=1.2), hoverinfo="skip",
                             showlegend=False, xaxis="x", yaxis="y"))
    if lab:
        fig.add_trace(go.Scatter(x=[fib_end], y=[lv], mode="text", text=[lab],
                                 textposition="top left", textfont=dict(family=FONT, size=10.5, color="#808080"),
                                 hoverinfo="skip", showlegend=False, xaxis="x", yaxis="y"))

# Candles
fig.add_trace(go.Candlestick(x=months, open=opens, high=highs, low=lows, close=closes,
                             increasing=dict(line=dict(color="black", width=1), fillcolor="white"),
                             decreasing=dict(line=dict(color=CANDLE_RED, width=1), fillcolor=CANDLE_RED),
                             whiskerwidth=0, xaxis="x", yaxis="y", showlegend=False, hoverinfo="skip"))

# Stochastics
for k, d, xa, ya in [(sto1_k, sto1_d, "x2", "y2"), (sto2_k, sto2_d, "x3", "y3"), (sto3_k, sto3_d, "x4", "y4")]:
    fig.add_trace(band(d, STORED, width=1.1, xa=xa, ya=ya))
    fig.add_trace(band(k, KNAVY, width=2.2, xa=xa, ya=ya))

# ---------------- layout ----------------
W, H = 990, 897
L, R, T, B = 17, 46, 31, 16
PW, PH = W - L - R, H - T - B

def px(xp):
    return (xp - L) / PW

def py(yp):
    return (H - B - yp) / PH

GRIDC = "#c8c8c8"
grid = dict(showgrid=True, gridcolor=GRIDC, griddash="dot", gridwidth=1)
tick_dates = []
tick_text = []
for y in range(1996, 2015):
    tick_dates += [datetime(y, 1, 1), datetime(y, 7, 1)]
    tick_text += [str(y) if str(y) in year_labels else "", ""]

def xaxis_cfg(anchor, show, standoff):
    return dict(domain=[0, 1], anchor=anchor, range=[dy(1996.135), dy(2014.827)], tickmode="array",
                tickvals=tick_dates, ticktext=tick_text, showticklabels=show,
                showline=True, mirror=True, linecolor="black", linewidth=1,
                ticks="", automargin=False, ticklabelstandoff=standoff,
                tickfont=dict(family=AFONT, size=10.5, color="black"), **grid)

dom_main = [py(435), 1.0]
dom1 = [py(595), py(452)]
dom2 = [py(738), py(595)]
dom3 = [0.0, py(738)]

ymain_ticks = [72.5 + 2.5 * i for i in range(20)]
ymain_text = ["" if v in (72.5, 77.5, 80.0, 87.5) else f"{v:.1f}" for v in ymain_ticks]
sto_minor = [0, 10, 30, 40, 60, 70, 90, 100]

def ysto(dom, anchor, rng, labels):
    return dict(domain=dom, anchor=anchor, range=rng, side="right", tickmode="array",
                tickvals=[20, 50, 80], ticktext=labels, automargin=False,
                showline=True, mirror=True, linecolor="black", linewidth=1, ticks="outside", ticklen=3,
                tickfont=dict(family=FONT, size=10, color="black"), zeroline=False, showgrid=False,
                minor=dict(tickmode="array", tickvals=sto_minor, showgrid=True, gridcolor=GRIDC,
                           griddash="dot", ticks=""))

x1 = xaxis_cfg("y", True, 2)
x1["rangeslider"] = dict(visible=False)
x2 = xaxis_cfg("y2", False, 0); x2["matches"] = "x"
x3 = xaxis_cfg("y3", False, 0); x3["matches"] = "x"
x4 = xaxis_cfg("y4", True, 0); x4["matches"] = "x"

fig.update_layout(
    width=W, height=H, margin=dict(l=L, r=R, t=T, b=B, autoexpand=False),
    paper_bgcolor="#a6c8f0", plot_bgcolor="white", showlegend=False,
    xaxis=x1, xaxis2=x2, xaxis3=x3, xaxis4=x4,
    yaxis=dict(domain=dom_main, anchor="x", side="right", type="log",
               range=[np.log10(70.55), np.log10(121.95)], tickmode="array",
               tickvals=ymain_ticks, ticktext=ymain_text, automargin=False,
               showline=True, mirror=True, linecolor="black", linewidth=1, ticks="outside",
               ticklen=3, tickfont=dict(family=FONT, size=10, color="black"), **grid),
    yaxis2=ysto(dom1, "x2", [-4.6, 105.4], ["20", "", "80"]),
    yaxis3=ysto(dom2, "x3", [-3.8, 105.4], ["20", "50", "80"]),
    yaxis4=ysto(dom3, "x4", [-3.8, 105.4], ["20", "", "80"]),
)

# reference lines in stochastic panels
shapes = []
for ya in ["y2", "y3", "y4"]:
    for lv, dash in [(80, "solid"), (20, "solid"), (50, "dashdot")]:
        shapes.append(dict(type="line", xref="paper", x0=0, x1=1, yref=ya, y0=lv, y1=lv,
                           line=dict(color="black", width=1.3, dash=dash), layer="below"))
fig.update_layout(shapes=shapes)

ann = []
def note(xp, yp, text, size=11, color="black", family=AFONT, xanchor="left", **kw):
    ann.append(dict(xref="paper", yref="paper", x=px(xp), y=py(yp), text=text, showarrow=False,
                    xanchor=xanchor, yanchor="middle", font=dict(family=family, size=size, color=color), **kw))

# header
note(4, 10, "<b>$USD</b>", size=14, family=FONT)
note(51, 10, "US Dollar Index - Cash Settle (EOD) ICE", size=11.5)
note(14, 25, "8-Sep-2014", size=10.5)
note(944, 9, "© StockCharts.com", size=10, color="#404040", xanchor="right")
note(944, 23, "<b>Open</b> 82.78 <b>High</b> 84.38  <b>Low</b> 82.78  <b>Close</b> 84.29  "
               "<b>Chg</b> +1.57 (+1.90%) <span style='color:#1a9a1a'>▲</span>", size=11, xanchor="right")

# main legend
note(19, 36, "<b>▮▯</b> $USD (Monthly) 84.29", size=10.5, family=FONT)
note(19, 47, "<b>–</b>BB(21,2.0) 78.52 - 81.33 - 84.14", size=10, color=BLUE)
note(19, 58, "<b>–</b>BB(34,2.1) 77.87 - 80.95 - 84.03", size=10, color=RED)
note(19, 69, "<b>–</b>BB(55,2.5) 72.93 - 80.04 - 87.15", size=10, color=GREEN)
note(19, 80, "<span style='color:#3060b0'>▮</span>Volume undef", size=10, color="#1a4a9a")

# stochastic legends
for yp, lab, kv, dv in [(460, "Full STO %K(21,8) %D(13)", "37.29", "42.85"),
                        (603, "Full STO %K(34,13) %D(21)", "64.68", "61.42"),
                        (746, "Full STO %K(55,21) %D(34)", "53.48", "45.58")]:
    note(19, yp, f"<span style='color:{KNAVY}'><b>–</b></span> {lab} "
                 f"<span style='color:{KNAVY}'>{kv}</span>, <span style='color:{STORED}'>{dv}</span>",
         size=10.5, family=FONT)

# right-hand value boxes
def vbox(yref, yv, text, color, bold=False, yshift=0):
    ann.append(dict(xref="paper", yref=yref, x=1.0, y=yv, text=f"<b>{text}</b>" if bold else text,
                    showarrow=False, xanchor="left", yanchor="middle", xshift=2, yshift=yshift,
                    font=dict(family=FONT, size=10, color="black"), bgcolor="white",
                    bordercolor=color, borderwidth=1.2, borderpad=1))

vbox("y", np.log10(87.15), "87.15", GREEN)
vbox("y", np.log10(84.29), "84.29", "black", bold=True, yshift=-2)
vbox("y", np.log10(81.33), "81.33", BLUE)
vbox("y", np.log10(80.04), "80.04", GREEN)
vbox("y", np.log10(77.87), "77.87", RED, yshift=-2)
vbox("y", np.log10(78.52), "78.52", BLUE, yshift=1)
vbox("y", np.log10(72.93), "72.93", GREEN)
vbox("y2", 42.85, "42.85", STORED, yshift=2)
vbox("y2", 37.29, "37.29", KNAVY, yshift=-1)
vbox("y3", 61.42, "61.42", STORED, yshift=-4)
vbox("y3", 64.68, "64.68", KNAVY, yshift=3)
vbox("y4", 53.48, "53.48", KNAVY)
vbox("y4", 45.58, "45.58", STORED)

fig.update_layout(annotations=ann)
fig.write_html("out.html", config={"displayModeBar": False},
               post_script="document.body.style.margin='0px';")
